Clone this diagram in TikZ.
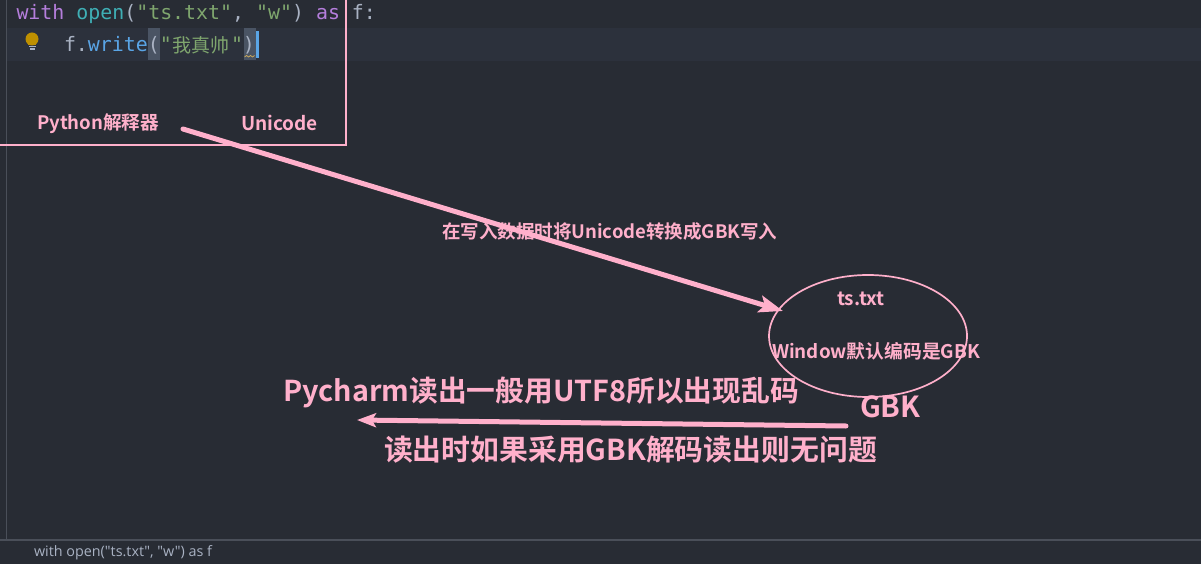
\documentclass[tikz,border=0pt]{standalone}
\usepackage{fontspec}
\usetikzlibrary{shapes.geometric,arrows.meta}
\newfontfamily\statusf{Open Sans}
\newfontfamily\cjkr{Noto Sans CJK SC}
\newfontfamily\codef{DejaVu Sans Mono}
\newfontfamily\lab{Noto Sans CJK SC Bold}
\definecolor{bgc}{HTML}{282C34}
\definecolor{hlc}{HTML}{2C313C}
\definecolor{pinkc}{HTML}{FFB0CB}
\definecolor{kwc}{HTML}{B57EDC}
\definecolor{fnc}{HTML}{3FAFB5}
\definecolor{strc}{HTML}{7FA66E}
\definecolor{plainc}{HTML}{A9B2C3}
\definecolor{bluec}{HTML}{5AA5E6}
\definecolor{bracec}{HTML}{4A5464}
\definecolor{linec}{HTML}{4A4F59}
\definecolor{bulbc}{HTML}{BF9000}
\definecolor{warnc}{HTML}{C9A85C}
\tikzset{
  txt/.style={inner sep=0pt,outer sep=0pt,anchor=west},
  pinktext/.style={txt,text=pinkc,font=\lab\fontsize{#1}{#1}\selectfont},
  codetext/.style={txt,font=\codef\fontsize{19.9}{20}\selectfont},
  thick arrow/.style={draw=pinkc,line width=#1,line cap=round},
}
\begin{document}
\begin{tikzpicture}[x=1pt,y=-1pt]
\useasboundingbox (0,0) rectangle (1201,564);
\fill[bgc] (0,0) rectangle (1201,564);
\fill[hlc] (7,28) rectangle (1201,61);
\draw[linec,line width=1pt] (6.5,0) -- (6.5,539);
\draw[linec,line width=1.2pt] (0,540) -- (1201,540);
% code
\node[codetext] (code1) at (16.5,14) {\textcolor{kwc}{with} \textcolor{fnc}{open}\textcolor{plainc}{(}\textcolor{strc}{"ts.txt"}\textcolor{plainc}{,} \textcolor{strc}{"w"}\textcolor{plainc}{)} \textcolor{kwc}{as} \textcolor{plainc}{f:}};
\fill[bracec] (148,28) rectangle (160,60);
\fill[bracec] (244,28) rectangle (256,60);
\fill[bluec] (255.5,31) rectangle (258.5,58);
\draw[warnc,line width=0.8pt] (244.5,57) -- (246.5,55.5) -- (248.5,57) -- (250.5,55.5) -- (252.5,57) -- (254.5,55.5);
\node[codetext] (code2a) at (64,45.5) {\textcolor{plainc}{f.}\textcolor{bluec}{write}\textcolor{plainc}{(}\textcolor{strc}{"}};
\node[txt,text=strc,font=\cjkr\fontsize{19}{19}\selectfont] (code2b) at (172.5,45.5) {我真帅};
\node[codetext] (code2c) at (231,45.5) {\textcolor{strc}{"}\textcolor{plainc}{)}};
% bulb
\fill[bulbc] (32,39) circle (6.5);
\fill[bulbc] (28,43) rectangle (36,45);
\fill[plainc] (28.5,46) rectangle (35.5,47.5);
\fill[plainc] (29.5,48.5) rectangle (34.5,50);
% frame
\draw[pinkc,line width=2pt] (0,145.5) -- (346,145.5) -- (346,0);
\node[pinktext=18.6] (py) at (37,123.5) {Python解释器};
\node[pinktext=19] (uni) at (241,122.5) {Unicode};
% ellipse
\node[draw=pinkc,line width=1.7pt,ellipse,minimum width=198pt,minimum height=122pt,inner sep=0pt] (file) at (868,336) {};
\node[pinktext=19] (tsname) at (837,298.5) {ts.txt};
\node[pinktext=18.8] (win) at (772,351.5) {Window默认编码是GBK};
\node[pinktext=18.5] (note) at (442,231.5) {在写入数据时将Unicode转换成GBK写入};
\node[pinktext=29] (gbk) at (860,407) {GBK};
\node[pinktext=28.75] (read) at (283,392) {Pycharm读出一般用UTF8所以出现乱码};
\node[pinktext=28.85] (fix) at (384,450) {读出时如果采用GBK解码读出则无问题};
% arrows
\coordinate (s1) at (183,129);
\coordinate (e1) at (783,311);
\draw[thick arrow=5pt,-{Stealth[length=24pt,width=17pt,inset=5pt]}] (s1) -- (e1);
\coordinate (s2) at (846,426);
\coordinate (e2) at (357,420);
\draw[thick arrow=5pt,-{Stealth[length=19pt,width=14pt,inset=4pt]}] (s2) -- (e2);
% status
\node[txt,text=plainc,font=\statusf\fontsize{14.35}{15}\selectfont] (status) at (34,552.5) {with open("ts.txt", "w") as f};
\end{tikzpicture}
\end{document}
